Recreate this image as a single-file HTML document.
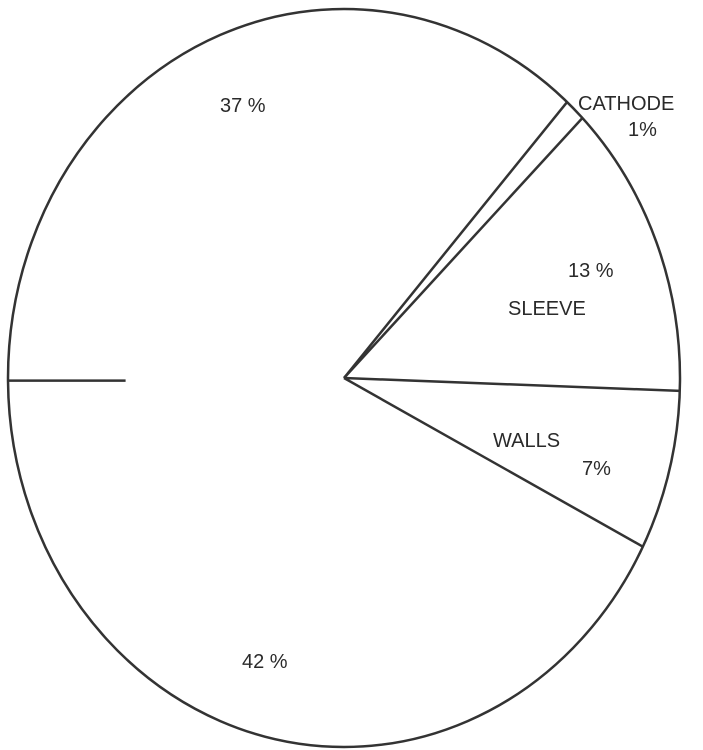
<!DOCTYPE html>
<html><head><meta charset="utf-8"><style>
html,body{margin:0;padding:0;background:#fff;}
svg{display:block;}
text{font-family:"Liberation Sans",sans-serif;fill:#2a2a2a;font-size:20px;font-weight:500;}
</style></head><body>
<svg id="chart" width="703" height="750" viewBox="0 0 703 750">
<ellipse cx="344" cy="378" rx="336" ry="369" fill="#fff" stroke="#333" stroke-width="2.5"/>
<g id="lines"></g>
<text x="220" y="112">37 %</text>
<text x="578" y="110">CATHODE</text>
<text x="628" y="136">1%</text>
<text x="568" y="277">13 %</text>
<text x="508" y="315">SLEEVE</text>
<text x="493" y="447">WALLS</text>
<text x="582" y="475">7%</text>
<text x="242" y="668">42 %</text>
</svg>
<script>
const categories=["WALLS","SLEEVE","CATHODE","UNLABELED-37","UNLABELED-42"];
const values=[7,13,1,37,42];
const cx=344,cy=378,rx=336,ry=369,startDeg=2;
const g=document.getElementById('lines');
const ns='http://www.w3.org/2000/svg';
const total=values.reduce((a,b)=>a+b,0);
let bounds=[startDeg+values[0]/total*360];
let a=startDeg;bounds.push(a);
for(let i=1;i<values.length-1;i++){a-=values[i]/total*360;bounds.push(a);}
bounds.forEach((deg,i)=>{
  const partial=(i===bounds.length-1);
  const d=partial?-180.4:deg;
  const r=d*Math.PI/180;
  const ex=cx+rx*Math.cos(r),ey=cy+ry*Math.sin(r);
  const ln=document.createElementNS(ns,'line');
  
  
  let sx=cx,sy=cy;
  if(partial){sx=ex+(cx-ex)*0.35;sy=ey;}
  ln.setAttribute('x1',sx);ln.setAttribute('y1',sy);
  ln.setAttribute('x2',ex);ln.setAttribute('y2',ey);
  ln.setAttribute('stroke','#333');ln.setAttribute('stroke-width','2.5');
  g.appendChild(ln);
});
</script>
</body></html>
